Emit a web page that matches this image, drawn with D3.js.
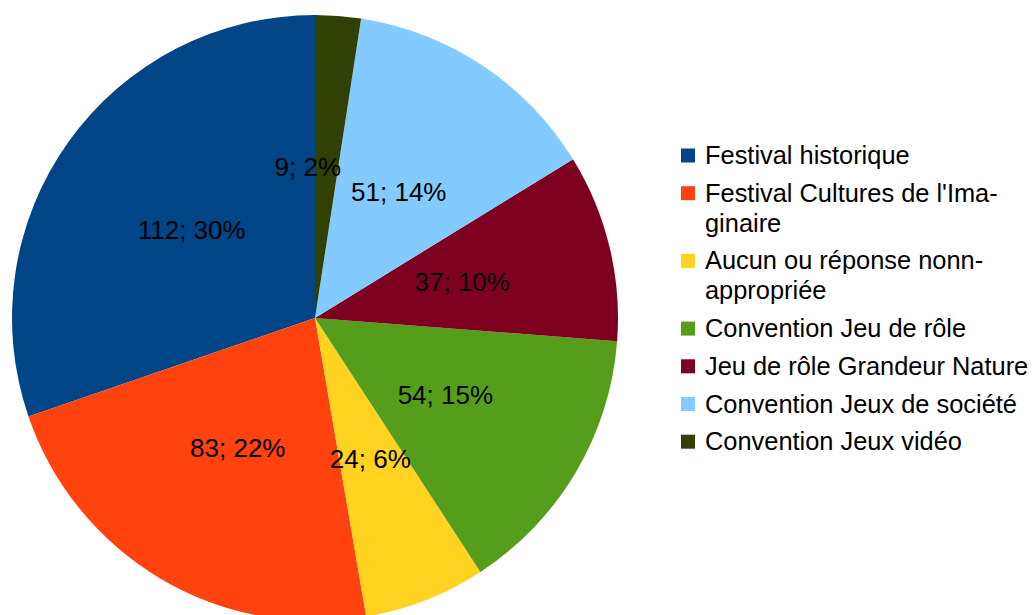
<!DOCTYPE html>
<html>
<head>
<meta charset="utf-8">
<script src="https://cdn.jsdelivr.net/npm/d3@7"></script>
<style>
  body { margin: 0; background: #fff; }
  svg text { font-family: "Liberation Sans", Arial, sans-serif; fill: #000; }
</style>
</head>
<body>
<div id="chart"></div>
<script>
// de gegevens van de taartgrafiek
const categories = [
  "Festival historique",
  "Festival Cultures de l'Imaginaire",
  "Aucun ou réponse nonn-appropriée",
  "Convention Jeu de rôle",
  "Jeu de rôle Grandeur Nature",
  "Convention Jeux de société",
  "Convention Jeux vidéo"
];
const values = [112, 83, 24, 54, 37, 51, 9];
const percents = [30, 22, 6, 15, 10, 14, 2];
const legendLines = [
  ["Festival historique"],
  ["Festival Cultures de l'Ima-", "ginaire"],
  ["Aucun ou réponse nonn-", "appropriée"],
  ["Convention Jeu de rôle"],
  ["Jeu de rôle Grandeur Nature"],
  ["Convention Jeux de société"],
  ["Convention Jeux vidéo"]
];
const colors = ["#004586", "#ff420e", "#ffd320", "#579d1c", "#7e0021", "#83caff", "#314004"];

const width = 1032;
const height = 615;
const cx = 315, cy = 318, radius = 303;

const svg = d3.select("#chart")
    .append("svg")
    .attr("width", width)
    .attr("height", height);

const color = d3.scaleOrdinal()
    .domain(categories)
    .range(colors);

// tegen de klok in, beginnend bovenaan
const pie = d3.pie()
    .sort(null)
    .value(function (d, i) { return values[i]; })
    .startAngle(0)
    .endAngle(-2 * Math.PI);

const arc = d3.arc()
    .innerRadius(0)
    .outerRadius(radius);

const arcs = pie(categories);

const g = svg.append("g")
    .attr("transform", "translate(" + cx + "," + cy + ")");

g.selectAll("path.slice")
    .data(arcs)
    .enter().append("path")
    .attr("class", "slice")
    .attr("d", arc)
    .attr("fill", function (d) { return color(d.data); });

// labels in het midden van elk stuk
const labels = g.selectAll("text.label")
    .data(arcs)
    .enter().append("text")
    .attr("class", "label")
    .attr("text-anchor", "middle")
    .attr("dy", "0.35em")
    .style("font-size", "26px")
    .attr("transform", function (d) { return "translate(" + arc.centroid(d) + ")"; })
    .text(function (d, i) { return values[i] + "; " + percents[i] + "%"; });

// schuif labels die overlappen naar links
const nodes = labels.nodes();
const boxes = nodes.map(function (n, i) {
  const b = n.getBBox();
  const c = arc.centroid(arcs[i]);
  return {x: c[0] + b.x, y: c[1] + b.y, w: b.width, h: b.height};
});
nodes.forEach(function (n, i) {
  const a = boxes[i];
  boxes.forEach(function (b, j) {
    if (j >= i) return;
    const overlap = a.x < b.x + b.w && a.x + a.w > b.x && a.y < b.y + b.h && a.y + a.h > b.y;
    if (overlap && a.w < b.w) {
      const shift = (a.x + a.w) - (b.x - 10);
      const c = arc.centroid(arcs[i]);
      d3.select(n).attr("transform", "translate(" + (c[0] - shift) + "," + c[1] + ")");
      a.x -= shift;
    }
  });
});

// legenda
const legend = svg.append("g")
    .attr("transform", "translate(681,164)");

let yPos = 0;
categories.forEach(function (cat, i) {
  const item = legend.append("g")
      .attr("transform", "translate(0," + yPos + ")");
  item.append("rect")
      .attr("x", 0)
      .attr("y", -15.5)
      .attr("width", 14)
      .attr("height", 14)
      .attr("fill", color(cat));
  legendLines[i].forEach(function (line, k) {
    item.append("text")
        .attr("x", 24)
        .attr("y", k * 30)
        .style("font-size", "25.4px")
        .text(line);
  });
  yPos += 37.7 + (legendLines[i].length - 1) * 30;
});
</script>
</body>
</html>
